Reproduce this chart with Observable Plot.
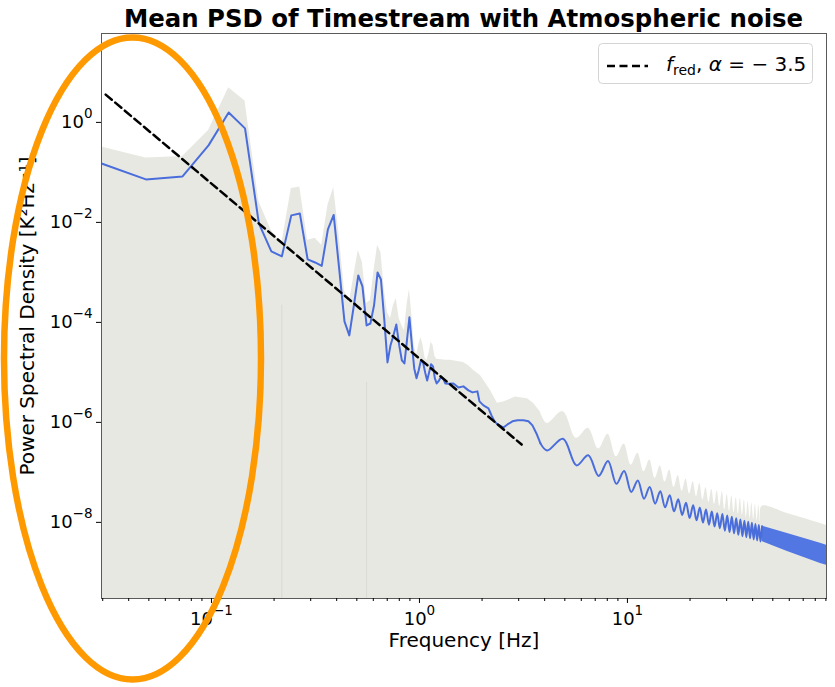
<!DOCTYPE html>
<html>
<head>
<meta charset="utf-8">
<script src="https://cdn.jsdelivr.net/npm/d3@7"></script>
<script src="https://cdn.jsdelivr.net/npm/@observablehq/plot@0.6"></script>
<style>
  body { margin: 0; background: #fff; }
  #wrap { position: relative; width: 835px; height: 687px; font-family: "DejaVu Sans", sans-serif; }
  #overlay { position: absolute; left: 0; top: 0; pointer-events: none; }
</style>
</head>
<body>
<div id="wrap"></div>
<script>
// ---------- data ----------
// low-frequency samples (Hz)
const lowFreq = [0.0296, 0.0484, 0.0726, 0.0968, 0.121, 0.145, 0.169, 0.194, 0.218, 0.242, 0.266, 0.290, 0.315, 0.339, 0.363, 0.387, 0.411, 0.436, 0.460, 0.484, 0.508, 0.532, 0.557, 0.581, 0.605, 0.629, 0.653, 0.678, 0.702, 0.726, 0.750, 0.774, 0.799, 0.823, 0.847, 0.871, 0.895, 0.920, 0.944, 0.968, 0.992, 1.016, 1.041, 1.065, 1.089, 1.113, 1.137, 1.162, 1.186, 1.210, 1.234, 1.258, 1.283, 1.307, 1.331];
// mean PSD at those samples
const lowMean = [0.151, 0.0724, 0.0832, 0.347, 1.58, 0.759, 0.00955, 0.00263, 0.00209, 0.0138, 0.0151, 0.00182, 0.00158, 0.00135, 0.00724, 0.0141, 0.0012, 1.05e-4, 5.5e-5, 2.2e-4, 8.7e-4, 5.25e-4, 8.7e-5, 9.5e-5, 2.2e-4, 1.0e-3, 7.2e-4, 1.1e-4, 1.58e-5, 3.5e-5, 5.5e-5, 9.1e-5, 3.5e-5, 1.74e-5, 1.51e-5, 4.4e-5, 1.26e-4, 3.5e-5, 1.2e-5, 7.6e-6, 1.1e-5, 1.74e-5, 1.58e-5, 1.0e-5, 6.9e-6, 1.0e-5, 1.45e-5, 1.32e-5, 7.6e-6, 6.0e-6, 6.6e-6, 7.6e-6, 7.9e-6, 7.2e-6, 6.0e-6];
// upper edge of the shaded spread at those samples
const lowUpper = [0.321, 0.193, 0.209, 0.692, 4.94, 2.67, 0.0263, 0.00692, 0.0038, 0.0479, 0.0513, 0.00437, 0.00479, 0.00347, 0.0219, 0.0501, 0.0055, 4.37e-4, 2.4e-4, 8.7e-4, 2.75e-3, 1.58e-3, 2.4e-4, 2.75e-4, 1.1e-3, 3.47e-3, 2.5e-3, 4.37e-4, 1.58e-4, 1.2e-4, 2.2e-4, 3.0e-4, 1.2e-4, 8.7e-5, 6.9e-5, 2.2e-4, 4.6e-4, 1.38e-4, 3.5e-5, 2.2e-5, 3.5e-5, 5.0e-5, 3.5e-5, 1.9e-5, 1.74e-5, 2.5e-5, 4.0e-5, 3.5e-5, 2.1e-5, 1.82e-5, 1.8e-5, 1.8e-5, 1.78e-5, 1.76e-5, 1.74e-5];

// mid range (1.4 - 4 Hz)
const midMeanFreq = [1.379, 1.457, 1.540, 1.627, 1.720, 1.798, 1.900, 1.943, 2.031, 2.147, 2.220, 2.294, 2.371, 2.534, 2.649, 2.800, 2.960, 3.162, 3.342, 3.494, 3.652, 3.817];
const midMean = [5.94e-6, 6.0e-6, 5.0e-6, 5.25e-6, 4.37e-6, 3.98e-6, 4.17e-6, 2.63e-6, 2.19e-6, 1.91e-6, 1.38e-6, 1.05e-6, 9.1e-7, 7.9e-7, 9.1e-7, 1.05e-6, 1.1e-6, 1.1e-6, 1.05e-6, 8.7e-7, 6.0e-7, 3.8e-7];
const midUpperFreq = [1.41, 1.627, 1.720, 1.818, 1.965, 2.194, 2.371, 2.534, 2.894, 3.304, 3.532, 3.817];
const midUpper = [1.74e-5, 1.58e-5, 1.38e-5, 1.1e-5, 8.7e-6, 4.37e-6, 2.4e-6, 2.55e-6, 3.2e-6, 2.98e-6, 2.4e-6, 1.61e-6];

// high range: troughs and peaks of the ripple (4 - 45 Hz)
const hfFreq = [4.11, 4.90, 5.69, 6.48, 7.27, 8.06, 8.85, 9.64, 10.43, 11.22, 12.01, 12.80, 13.59, 14.38, 15.17, 15.96, 16.75, 17.54, 18.33, 19.12, 19.91, 20.70, 21.49, 22.28, 23.07, 23.86, 24.65, 25.44, 26.23, 27.02, 27.81, 28.60, 29.39, 30.18, 30.97, 31.76, 32.55, 33.34, 34.13, 34.92, 35.71, 36.50, 37.29, 38.08, 38.87, 39.66, 40.45, 41.24, 42.03, 42.82, 43.61, 44.40];
const hfMean = [2.75e-7, 4.7e-7, 1.38e-7, 2.19e-7, 8.5e-8, 1.68e-7, 5.9e-8, 1.06e-7, 4.04e-8, 6.9e-8, 2.98e-8, 5.1e-8, 2.37e-8, 4.2e-8, 2.0e-8, 3.47e-8, 1.66e-8, 2.9e-8, 1.41e-8, 2.48e-8, 1.22e-8, 2.2e-8, 1.1e-8, 1.99e-8, 9.9e-9, 1.8e-8, 9.0e-9, 1.65e-8, 8.3e-9, 1.52e-8, 7.66e-9, 1.47e-8, 6.8e-9, 1.37e-8, 6.4e-9, 1.29e-8, 6.0e-9, 1.21e-8, 5.65e-9, 1.14e-8, 5.3e-9, 1.08e-8, 5.06e-9, 1.03e-8, 4.8e-9, 9.8e-9, 4.55e-9, 9.3e-9, 4.35e-9, 8.9e-9, 4.13e-9, 8.4e-9];
const hfUpper = [9.5e-7, 1.64e-6, 4.8e-7, 7.6e-7, 2.95e-7, 5.8e-7, 2.05e-7, 3.7e-7, 1.4e-7, 2.4e-7, 1.03e-7, 1.77e-7, 7.6e-8, 1.34e-7, 6.4e-8, 1.11e-7, 5.0e-8, 8.7e-8, 4.2e-8, 7.4e-8, 3.7e-8, 6.6e-8, 3.3e-8, 6.0e-8, 2.8e-8, 5.0e-8, 2.5e-8, 4.6e-8, 2.3e-8, 4.3e-8, 2.1e-8, 4.1e-8, 1.77e-8, 3.6e-8, 1.66e-8, 3.4e-8, 1.56e-8, 3.1e-8, 1.47e-8, 3.0e-8, 1.38e-8, 2.8e-8, 1.27e-8, 2.6e-8, 1.2e-8, 2.45e-8, 1.14e-8, 2.3e-8, 1.09e-8, 2.2e-8, 1.03e-8, 2.1e-8];

// dense ripple band (45 - 90 Hz): low / high edge of the mean, and upper spread
const bandFreq = [44.4, 58.8, 84.7, 90.6];
const bandLow = [4.13e-9, 2.6e-9, 1.5e-9, 1.38e-9];
const bandHigh = [8.4e-9, 6.0e-9, 3.8e-9, 3.47e-9];
const bandUpper = [2.1e-8, 1.5e-8, 9.5e-9, 8.7e-9];

// red-noise reference line, alpha = -3.5
const fredFreq = [0.031, 3.1];
const fredPSD = [3.6, 3.6e-7];

// thin seams in the shaded area
const seamFreq = [0.218, 0.557];
const seamTop = [2.2e-4, 6.3e-6];

const floorPSD = 1e-10;

const xTicks = [0.1, 1, 10];
const xMinorTicks = [0.03, 0.04, 0.05, 0.06, 0.07, 0.08, 0.09, 0.2, 0.3, 0.4, 0.5, 0.6, 0.7, 0.8, 0.9, 2, 3, 4, 5, 6, 7, 8, 9, 20, 30, 40, 50, 60, 70, 80, 90];
const yTicks = [1e-8, 1e-6, 1e-4, 1e-2, 1];

const titleText = "Mean PSD of Timestream with Atmospheric noise";
const xLabel = "Frequency [Hz]";
const yLabel = "Power Spectral Density [K²Hz⁻¹]";

// ---------- tables ----------
const zip = (f, v) => f.map((x, i) => ({f: x, v: v[i]}));
const lowMeanRows = [...zip(lowFreq, lowMean), ...zip(midMeanFreq, midMean)];
const hfMeanRows = [lowMeanRows[lowMeanRows.length - 1], ...zip(hfFreq, hfMean)];
const lowUpperRows = [...zip(lowFreq, lowUpper), ...zip(midUpperFreq, midUpper)];
const hfUpperRows = [lowUpperRows[lowUpperRows.length - 1], ...zip(hfFreq, hfUpper),
  ...zip(bandFreq.slice(1), bandUpper.slice(1))];
const bandRows = bandFreq.map((f, i) => ({f, lo: bandLow[i], hi: bandHigh[i]}));
const fredRows = zip(fredFreq, fredPSD);
const seamRows = zip(seamFreq, seamTop);

const blue = "#4a6ddc";
const shade = "#e8e8e3";

const plot = Plot.plot({
  width: 835,
  height: 687,
  marginTop: 33,
  marginRight: 9,
  marginBottom: 89,
  marginLeft: 101,
  style: {fontFamily: "DejaVu Sans, sans-serif", fontSize: "18px", background: "#fff", color: "#000"},
  x: {type: "log", domain: [0.0296, 90.6]},
  y: {type: "log", domain: [3.0e-10, 60]},
  marks: [
    Plot.areaY(lowUpperRows, {x: "f", y1: () => floorPSD, y2: "v", fill: shade, clip: true}),
    Plot.areaY(hfUpperRows, {x: "f", y1: () => floorPSD, y2: "v", fill: shade, curve: "catmull-rom", clip: true}),
    Plot.ruleX(seamRows, {x: "f", y1: () => floorPSD, y2: "v", stroke: "#d9d9d4", strokeWidth: 1, clip: true}),
    Plot.areaY(bandRows, {x: "f", y1: "lo", y2: "hi", fill: "#4169e1", fillOpacity: 0.9, clip: true}),
    Plot.line(lowMeanRows, {x: "f", y: "v", stroke: blue, strokeWidth: 2, clip: true}),
    Plot.line(hfMeanRows, {x: "f", y: "v", stroke: blue, strokeWidth: 2, curve: "catmull-rom", clip: true}),
    Plot.line(fredRows, {x: "f", y: "v", stroke: "#000", strokeWidth: 2.5, strokeDasharray: "8,4.5", clip: true}),
    Plot.frame({stroke: "#5a5a5a", strokeWidth: 1}),
    Plot.axisX({ticks: xMinorTicks, tickSize: 3, tickFormat: () => "", label: null}),
    Plot.axisX({ticks: xTicks, tickSize: 5, tickPadding: 9, fontSize: 18, tickFormat: d => "10^" + Math.round(Math.log10(d)), label: null}),
    Plot.axisY({ticks: yTicks, tickSize: 5, tickPadding: 4, fontSize: 18, tickFormat: d => "10^" + Math.round(Math.log10(d)), label: null}),
    Plot.text([xLabel], {text: d => d, frameAnchor: "bottom", dy: 48, fontSize: 20}),
    Plot.text([yLabel], {text: d => d, frameAnchor: "left", textAnchor: "middle", rotate: -90, dx: -74, fontSize: 20})
  ]
});

// matplotlib-like superscript tick labels
plot.querySelectorAll("text").forEach(t => {
  const m = t.textContent.match(/^10\^(-?\d+)$/);
  if (!m) return;
  t.textContent = "";
  const ns = "http://www.w3.org/2000/svg";
  const base = document.createElementNS(ns, "tspan");
  base.textContent = "10";
  const sup = document.createElementNS(ns, "tspan");
  sup.textContent = m[1].replace("-", "−");
  sup.setAttribute("font-size", "13.5");
  sup.setAttribute("dy", "-10");
  t.appendChild(base);
  t.appendChild(sup);
});

const wrap = document.getElementById("wrap");
wrap.appendChild(plot);

// title, legend and the orange highlight ellipse
const ov = `
<svg id="overlay" width="835" height="687" xmlns="http://www.w3.org/2000/svg" font-family="DejaVu Sans, sans-serif">
  <text x="463.5" y="27" text-anchor="middle" font-weight="bold" font-size="24.4">${titleText}</text>
  <rect x="598.5" y="43.5" width="214" height="40" rx="4" fill="#fff" fill-opacity="0.8" stroke="#d4d4d4"/>
  <line x1="607" x2="648" y1="66" y2="66" stroke="#000" stroke-width="2.5" stroke-dasharray="8,4.5"/>
  <text x="666" y="71" font-size="20"><tspan font-style="italic">f</tspan><tspan font-size="14" dy="4">red</tspan><tspan dy="-4">, </tspan><tspan font-style="italic">α</tspan><tspan> = − 3.5</tspan></text>
  <ellipse cx="132.5" cy="358.5" rx="128.5" ry="321" fill="none" stroke="#ff9900" stroke-width="6.5"/>
</svg>`;
wrap.insertAdjacentHTML("beforeend", ov);
</script>
</body>
</html>
